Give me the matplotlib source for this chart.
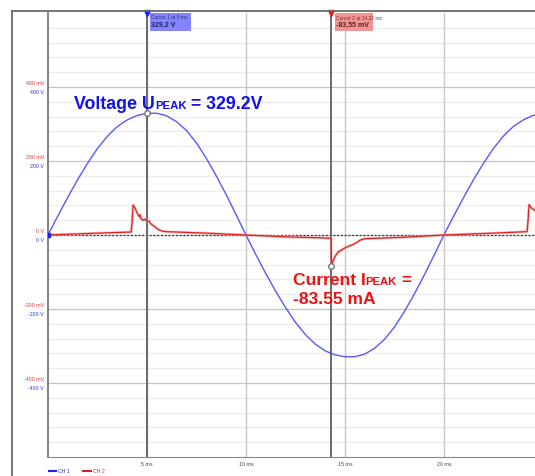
import matplotlib
matplotlib.use("Agg")
import matplotlib.pyplot as plt
from matplotlib.lines import Line2D
from matplotlib.patches import Rectangle

plt.rcParams["font.family"] = ["Liberation Sans", "DejaVu Sans"]

# CH1 voltage (V), every 0.5 ms
t_volt = [0.0, 0.5, 1.0, 1.5, 2.0, 2.5, 3.0, 3.5, 4.0, 4.5, 5.0, 5.5, 6.0, 6.5,
          7.0, 7.5, 8.0, 8.5, 9.0, 9.5, 10.0, 10.5, 11.0, 11.5, 12.0, 12.5,
          13.0, 13.5, 14.0, 14.5, 15.0, 15.5, 16.0, 16.5, 17.0, 17.5, 18.0,
          18.5, 19.0, 19.5, 20.0, 20.5, 21.0, 21.5, 22.0, 22.5, 23.0, 23.5,
          24.0, 24.5, 24.6]
volt = [0, 52, 102, 150, 194, 234, 267, 293, 311, 323, 329.2, 329, 322, 306,
        282, 249, 207, 160, 109, 55, 0, -53, -104, -152, -196, -236,
        -269, -295, -313, -324, -329, -329, -322, -306, -282, -249, -207,
        -160, -109, -55, 0, 52, 102, 150, 194, 234, 267, 293,
        311, 323, 325]

# CH2 current probe (mV)
t_curr = [0.0, 1.0, 2.0, 3.0, 4.2, 4.24, 4.3, 4.4, 4.5, 4.6, 4.65, 4.7, 4.8,
          4.9, 5.0, 5.1, 5.2, 5.4, 5.6, 5.8, 6.0, 8.0, 10.0, 12.0, 14.0,
          14.3, 14.32, 14.4, 14.5, 14.6, 14.7, 14.8, 14.9, 15.0, 15.2, 15.4,
          15.6, 15.8, 16.0, 18.0, 20.0, 22.0, 24.2, 24.25, 24.3, 24.4, 24.5,
          24.6]
curr = [0, 2, 4, 6, 8, 30, 81, 72, 60, 50, 55, 44, 40,
        43, 36, 38, 30, 22, 14, 10, 9, 5, 0, -5, -8,
        -9, -83.55, -70, -58, -50, -44, -42, -38, -35, -30, -26,
        -20, -13, -10, -6, 0, 4, 9, 40, 82, 74, 70,
        66]

x_ticks = [5, 10, 15, 20]
y_major = [400, 200, 0, -200, -400]
lbl_ch2 = ["400 mV", "200 mV", "0 V", "-200 mV", "-400 mV"]
lbl_ch1 = ["400 V", "200 V", "0 V", "-200 V", "-400 V"]
cursor1, cursor2 = 5.0, 14.32

blue = "#3c3cff"
red = "#dd2222"
W, H = 535, 477

fig = plt.figure(figsize=(5.35, 4.77), dpi=100)
ax = fig.add_axes([48 / W, 19 / H, 487 / W, 444 / H])
ax.set_xlim(0, 24.6)
ax.set_ylim(-600, 600)

# grid
for y in range(-560, 600, 40):
    if y % 200 == 0:
        ax.axhline(y, color="#c4c4c4", lw=0.9, zorder=1)
    else:
        ax.axhline(y, color="#ededed", lw=0.9, zorder=1)
for x in x_ticks:
    ax.axvline(x, color="#c8c8c8", lw=1.0, zorder=1)
ax.axhline(0, color="#333333", lw=0.9, ls=(0, (1.5, 1.5)), zorder=2)

# cursors
ax.axvline(cursor1, color="#6a6a6a", lw=1.4, zorder=3)
ax.axvline(cursor2, color="#6a6a6a", lw=1.4, zorder=3)
ax.plot([cursor1], [600], marker="v", color="#2020ff", ms=4, clip_on=False, zorder=6)
ax.plot([cursor2], [600], marker="v", color="#e02020", ms=4, clip_on=False, zorder=6)

# traces
ax.plot(t_volt, volt, color=blue, lw=1.0, alpha=0.85, zorder=4)
ax.plot(t_curr, curr, color="#f0a0a0", lw=2.0, alpha=0.6, zorder=4)
ax.plot(t_curr, curr, color=red, lw=0.9, zorder=5)
ax.plot([0], [0], marker="s", color="#2020ff", ms=3, zorder=6)
ax.plot([cursor1], [329.2], marker="o", mfc="white", mec="#777777", ms=4, zorder=7)
ax.plot([cursor2], [-83.55], marker="o", mfc="white", mec="#777777", ms=4, zorder=7)

# cursor readout boxes
ax.add_patch(Rectangle((5.15, 551), 2.07, 49, facecolor="#8484ff", edgecolor="none", zorder=6))
ax.text(5.22, 590, "Cursor 1 at 5 ms", fontsize=3.5, color="#30307a", va="center", zorder=7)
ax.text(5.22, 569, "329,2 V", fontsize=5, color="#20205a", fontweight="bold", va="center", zorder=7)
ax.add_patch(Rectangle((14.5, 551), 1.9, 49, facecolor="#f09494", edgecolor="none", zorder=6))
ax.text(14.57, 590, "Cursor 2 at 14,32 ms", fontsize=3.5, color="#7a3030", va="center", zorder=7)
ax.text(14.57, 569, "-83,55 mV", fontsize=5, color="#5a2020", fontweight="bold", va="center", zorder=7)

# axes styling
for s in ["top", "right"]:
    ax.spines[s].set_visible(False)
ax.spines["left"].set_color("#777777")
ax.spines["left"].set_linewidth(1.3)
ax.spines["bottom"].set_color("#888888")
ax.set_xticks([])
ax.set_yticks([])

for y, l2, l1 in zip(y_major, lbl_ch2, lbl_ch1):
    ax.text(-0.2, y + 13.5, l2, fontsize=3.8, color="#dd3333", ha="right", va="center")
    ax.text(-0.2, y - 13.5, l1, fontsize=3.8, color="#3333ee", ha="right", va="center")
for x in x_ticks:
    ax.text(x, -618, f"{x} ms", fontsize=3.8, color="#444444", ha="center", va="center", clip_on=False)


# annotations: big text with small-caps style "PEAK", placed piece by piece on a baseline
def pieces(x_px, base_px, parts, color):
    renderer = fig.canvas.get_renderer()
    x = x_px
    for txt, size in parts:
        t = fig.text(x / W, 1 - base_px / H, txt, fontsize=size, fontweight="bold",
                     color=color, va="baseline", ha="left")
        x += t.get_window_extent(renderer).width


pieces(74, 109, [("Voltage U", 12.8), ("PEAK", 8.2), (" = 329.2V", 12.8)], "#1010ee")
pieces(293, 285, [("Current I", 12.6), ("PEAK", 8.1), (" =", 12.6)], "#ee1111")
pieces(293, 304, [("-83.55 mA", 12.6)], "#ee1111")

# outer frame
fig.add_artist(Line2D([12 / W, 12 / W], [0, 1 - 12 / H], color="#6a6a6a", lw=1.3))
fig.add_artist(Line2D([12 / W, 1], [1 - 12 / H, 1 - 12 / H], color="#6a6a6a", lw=1.3))

# legend
fig.add_artist(Line2D([49 / W, 56 / W], [1 - 472 / H] * 2, color="#2020ff", lw=1.5))
fig.text(58 / W, 1 - 472 / H, "CH 1", fontsize=3.8, color="#3333cc", va="center")
fig.add_artist(Line2D([83 / W, 91 / W], [1 - 472 / H] * 2, color="#dd2020", lw=1.5))
fig.text(93 / W, 1 - 472 / H, "CH 2", fontsize=3.8, color="#cc3333", va="center")

fig.savefig("out.png", dpi=100)
